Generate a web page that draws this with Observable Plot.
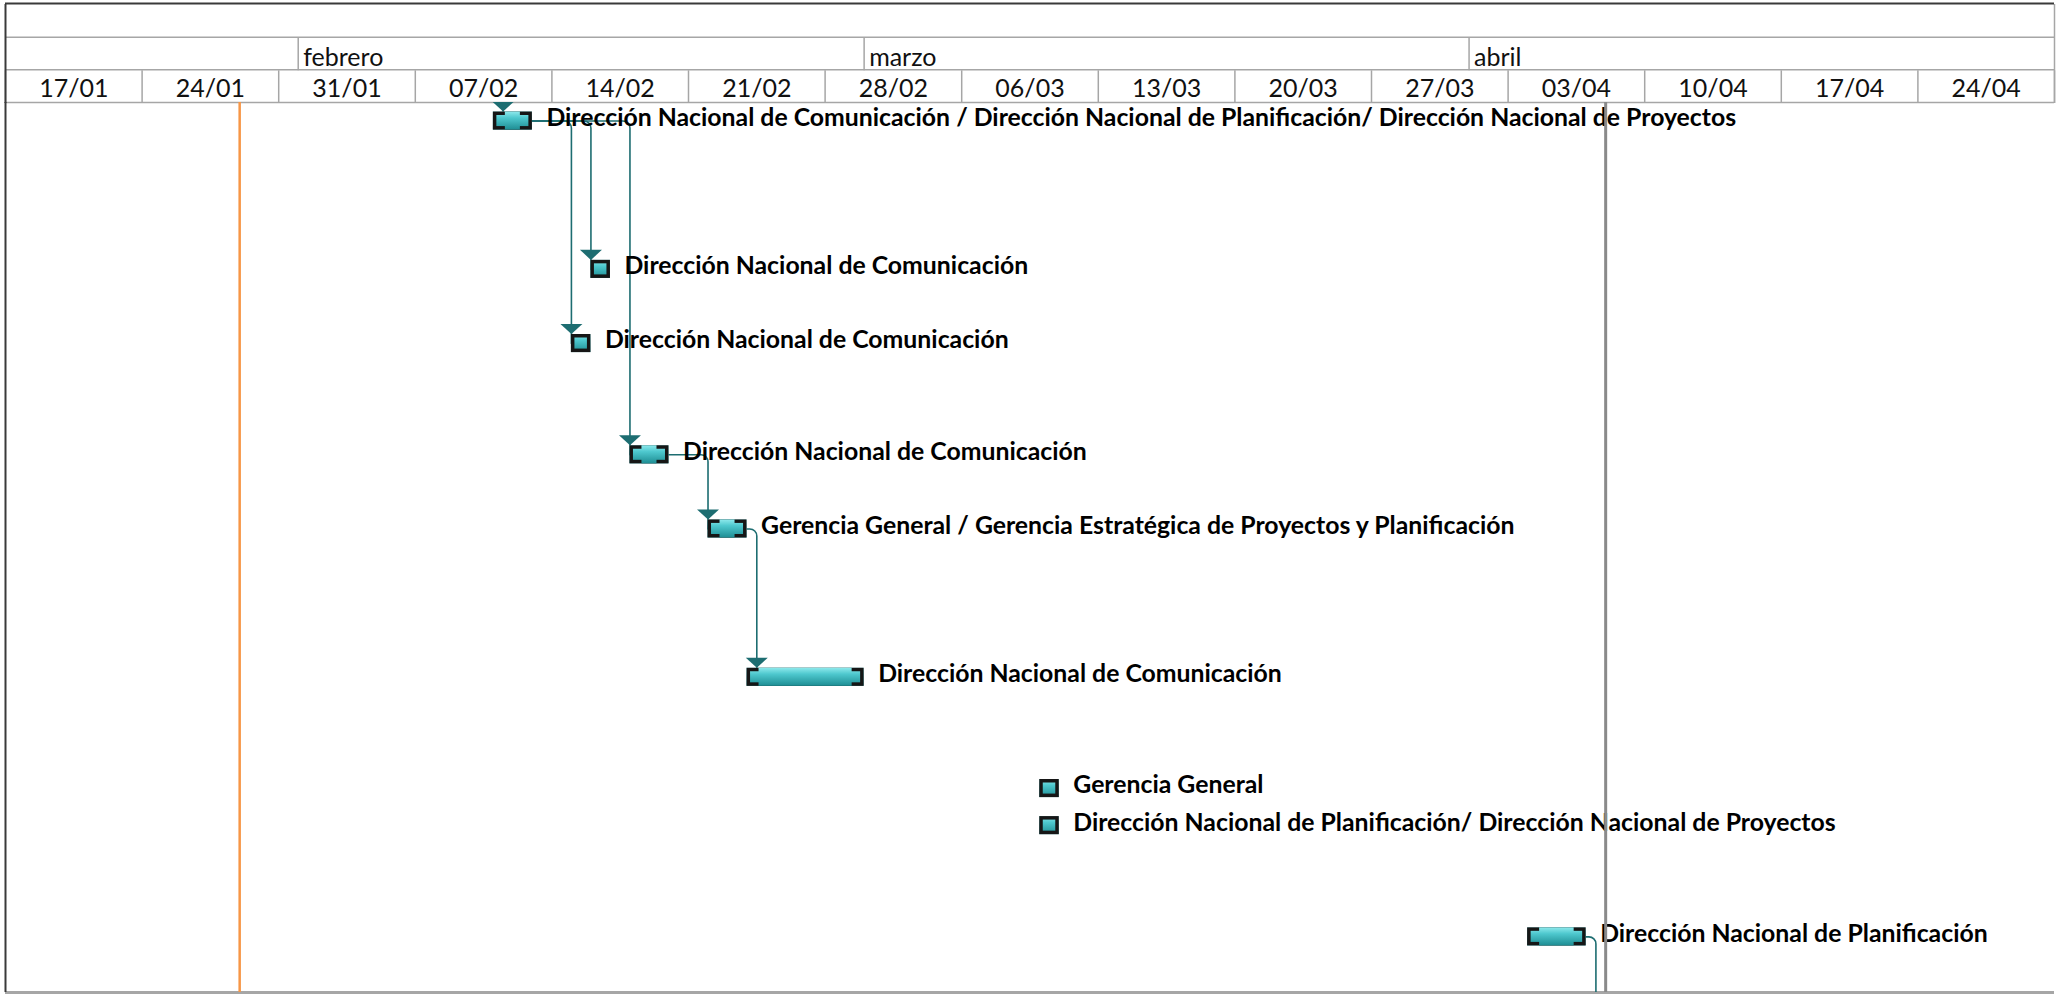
<!DOCTYPE html>
<html>
<head>
<meta charset="utf-8">
<script src="https://cdn.jsdelivr.net/npm/d3@7"></script>
<script src="https://cdn.jsdelivr.net/npm/@observablehq/plot@0.6"></script>
<style>
  html, body { margin: 0; padding: 0; background: #fff; }
  #chart svg { display: block; }
</style>
</head>
<body>
<svg width="0" height="0" style="position:absolute">
  <defs>
    <linearGradient id="barGrad" x1="0" y1="0" x2="0" y2="1">
      <stop offset="0" stop-color="#8ee9ec"/>
      <stop offset="0.35" stop-color="#4ec8ce"/>
      <stop offset="1" stop-color="#1e8d93"/>
    </linearGradient>
  </defs>
</svg>
<div id="chart"></div>
<script>
// ---------------- data ----------------
const weekStarts = ["2016-01-17","2016-01-24","2016-01-31","2016-02-07","2016-02-14","2016-02-21","2016-02-28",
  "2016-03-06","2016-03-13","2016-03-20","2016-03-27","2016-04-03","2016-04-10","2016-04-17","2016-04-24"];
const weekLabels = ["17/01","24/01","31/01","07/02","14/02","21/02","28/02","06/03","13/03","20/03","27/03",
  "03/04","10/04","17/04","24/04"];
const timelineEnd = "2016-05-01";
const monthStarts = ["2016-02-01","2016-03-01","2016-04-01"];
const monthNames = ["febrero","marzo","abril"];

const todayDate = "2016-01-29";   // línea naranja
const statusDate = "2016-04-08";  // línea gris

const taskNames = [
  "Dirección Nacional de Comunicación / Dirección Nacional de Planificación/ Dirección Nacional de Proyectos",
  "Dirección Nacional de Comunicación",
  "Dirección Nacional de Comunicación",
  "Dirección Nacional de Comunicación",
  "Gerencia General / Gerencia Estratégica de Proyectos y Planificación",
  "Dirección Nacional de Comunicación",
  "Gerencia General",
  "Dirección Nacional de Planificación/ Dirección Nacional de Proyectos",
  "Dirección Nacional de Planificación",
  "",   // predecessor outside the view (above)
  ""    // successor outside the view (below)
];
const taskStart = ["2016-02-11","2016-02-16","2016-02-15","2016-02-18","2016-02-22","2016-02-24",
  "2016-03-10","2016-03-10","2016-04-04","2016-02-08","2016-04-07"];
const taskEnd = ["2016-02-13","2016-02-17","2016-02-16","2016-02-20","2016-02-24","2016-03-01",
  "2016-03-11","2016-03-11","2016-04-07","2016-02-11","2016-04-09"];
const taskRow = [0, 4, 6, 9, 11, 15, 18, 19, 22, -2, 26];
const visibleRows = 24;

const linkFrom = [9, 0, 0, 0, 3, 4, 8];
const linkTo   = [0, 1, 2, 3, 4, 5, 10];

// ---------------- build ----------------
const parse = d3.utcParse("%Y-%m-%d");
const tasks = taskNames.map((name, i) => ({
  name, start: parse(taskStart[i]), end: parse(taskEnd[i]), row: taskRow[i]
}));
const HALF_DAY = 12 * 3600 * 1000;
const links = linkFrom.map((f, i) => {
  const a = tasks[f], b = tasks[linkTo[i]];
  const vx = new Date(Math.max(+b.start, +a.end + HALF_DAY));
  return {id: i, a, b, vx};
});
const linkPts = links.flatMap(l => [
  {id: l.id, x: l.a.end, y: l.a.row},
  {id: l.id, x: l.vx, y: l.a.row},
  {id: l.id, x: l.vx, y: l.b.row}
]);
const weekDates = weekStarts.map(parse);
const weekMids = weekDates.map(d => new Date(+d + 7 * HALF_DAY));
const xStart = weekDates[0], xEnd = parse(timelineEnd);

// rounded-corner polyline curve
function roundedCurve(context) {
  let pts = [];
  return {
    areaStart() {}, areaEnd() {},
    lineStart() { pts = []; },
    point(x, y) { pts.push([+x, +y]); },
    lineEnd() {
      if (!pts.length) return;
      context.moveTo(pts[0][0], pts[0][1]);
      for (let i = 1; i < pts.length - 1; i++) {
        context.arcTo(pts[i][0], pts[i][1], pts[i + 1][0], pts[i + 1][1], 7);
      }
      const last = pts[pts.length - 1];
      context.lineTo(last[0], last[1]);
    }
  };
}
const downTriangle = {
  draw(context, size) {
    const r = Math.sqrt(size / Math.PI);
    const h = r * 0.46;
    context.moveTo(-r, -h);
    context.lineTo(r, -h);
    context.lineTo(0, h);
    context.closePath();
  }
};

const linkColor = "#1d6d71";
const gridGray = "#a6a6a6";
const darkLine = "#3a3a3a";
const barY = {x1: "start", x2: "end", y1: d => d.row - 0.5, y2: d => d.row + 0.5};

const chart = Plot.plot({
  width: 2058,
  height: 994,
  marginTop: 102,
  marginLeft: 5,
  marginRight: 4,
  marginBottom: 2,
  x: {type: "utc", domain: [xStart, xEnd]},
  y: {type: "linear", domain: [-0.5, visibleRows - 0.5], reverse: true, axis: null},
  style: {fontFamily: "Lato, 'Open Sans', sans-serif", background: "#fff", overflow: "visible"},
  marks: [
    // header grid
    Plot.axisX({anchor: "top", ticks: weekDates.concat([xEnd]), tickSize: 32.7, stroke: gridGray,
      strokeWidth: 1.5, tickFormat: () => "", label: null}),
    Plot.axisX({anchor: "top", ticks: monthStarts.map(parse), tickSize: 32.6, dy: -32.7, stroke: gridGray,
      strokeWidth: 1.5, tickFormat: () => "", label: null}),
    Plot.axisX({anchor: "top", ticks: [xEnd], tickSize: 99, stroke: gridGray, strokeWidth: 1.5,
      tickFormat: () => "", label: null}),
    Plot.ruleY([-0.5], {dy: -32.7, stroke: gridGray, strokeWidth: 1.5}),
    Plot.ruleY([-0.5], {dy: -65.3, stroke: gridGray, strokeWidth: 1.5}),
    Plot.ruleY([-0.5], {stroke: gridGray, strokeWidth: 1.5}),
    Plot.ruleY([visibleRows - 0.5], {stroke: gridGray, strokeWidth: 3}),
    Plot.ruleY([-0.5], {dy: -99, stroke: darkLine, strokeWidth: 2}),
    Plot.axisX({anchor: "top", ticks: [xStart], tickSize: 99, stroke: darkLine, strokeWidth: 2,
      tickFormat: () => "", label: null}),
    Plot.ruleX([xStart], {stroke: darkLine, strokeWidth: 2}),
    // header text
    Plot.text(weekLabels, {x: (d, i) => weekMids[i], text: d => d, frameAnchor: "top", lineAnchor: "bottom",
      dy: -5.5, fontSize: 25, fill: "#111"}),
    Plot.text(monthNames, {x: (d, i) => parse(monthStarts[i]), text: d => d, frameAnchor: "top",
      lineAnchor: "bottom", textAnchor: "start", dx: 5, dy: -37, fontSize: 25, fill: "#111"}),
    // current date
    Plot.ruleX([parse(todayDate)], {stroke: "#f79646", strokeWidth: 2.5}),
    // dependency links
    Plot.line(linkPts, {x: "x", y: "y", z: "id", stroke: linkColor, strokeWidth: 1.6, curve: roundedCurve, clip: true}),
    Plot.dot(links, {x: "vx", y: d => d.b.row, symbol: downTriangle, r: 11, fill: linkColor, stroke: "none",
      dy: -14.5, clip: true}),
    // bars
    Plot.rect(tasks, {...barY, insetTop: 9.5, insetBottom: 9.5, fill: "url(#barGrad)", clip: true}),
    Plot.rect(tasks, {...barY, insetTop: 11.25, insetBottom: 11.25, insetLeft: 1.75, insetRight: 1.75,
      fill: "none", stroke: "#161616", strokeWidth: 3.5, clip: true}),
    Plot.rect(tasks, {...barY, insetTop: 9.5, insetBottom: 9.5, insetLeft: 12, insetRight: 12,
      fill: "url(#barGrad)", clip: true}),
    // labels
    Plot.text(tasks, {x: "end", y: "row", text: "name", textAnchor: "start", lineAnchor: "middle",
      dx: 14, dy: -3, fontSize: 24.8, fontWeight: 700, fill: "#000", clip: true}),
    // status line
    Plot.ruleX([parse(statusDate)], {stroke: "#8a8a8a", strokeWidth: 3})
  ]
});
document.getElementById("chart").appendChild(chart);
</script>
</body>
</html>
